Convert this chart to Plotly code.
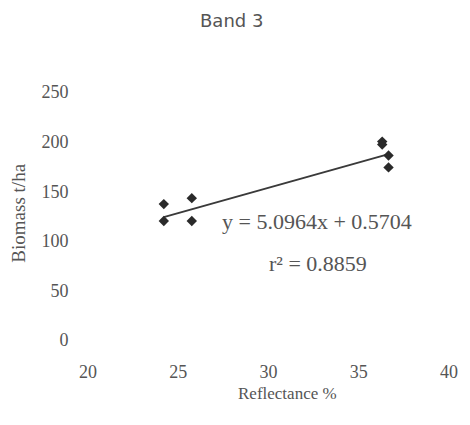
import plotly.graph_objects as go

# Data
reflectance = [24.2, 24.2, 25.75, 25.75, 36.3, 36.3, 36.65, 36.65]
biomass = [137, 120, 143, 120, 200, 197, 186, 174]

slope = 5.0964
intercept = 0.5704
r_squared = 0.8859

x_ticks = [20, 25, 30, 35, 40]
y_ticks = [0, 50, 100, 150, 200, 250]

x_fit = [min(reflectance), max(reflectance)]
y_fit = [slope * v + intercept for v in x_fit]

serif = "Liberation Serif, Times New Roman, serif"
grey = "#555555"

fig = go.Figure()
fig.add_trace(go.Scatter(
    x=x_fit, y=y_fit, mode="lines",
    line=dict(color="#3a3a3a", width=2),
    showlegend=False, hoverinfo="skip"))
fig.add_trace(go.Scatter(
    x=reflectance, y=biomass, mode="markers",
    marker=dict(symbol="diamond", size=8, color="#2a2a2a"),
    showlegend=False))

def ann(text, x, y, size, family=serif, angle=0):
    return dict(text=text, x=x, y=y, xref="paper", yref="paper",
                xanchor="center", yanchor="middle", showarrow=False,
                textangle=angle, font=dict(family=family, size=size, color=grey))

fig.update_layout(
    width=470, height=425,
    margin=dict(l=88, r=13, t=92, b=85),
    paper_bgcolor="white", plot_bgcolor="white",
    font=dict(family=serif, color=grey, size=18),
    xaxis=dict(range=[20, 40], tickvals=x_ticks, showgrid=False, zeroline=False,
               showline=False, ticks="outside", ticklen=15, tickcolor="rgba(0,0,0,0)",
               tickfont=dict(family=serif, size=18, color=grey)),
    yaxis=dict(range=[0, 250], tickvals=y_ticks, showgrid=False, zeroline=False,
               showline=False, ticks="outside", ticklen=15, tickcolor="rgba(0,0,0,0)",
               tickfont=dict(family=serif, size=18, color=grey)),
    annotations=[
        ann("Band 3", 0.398, 1.29, 18, family="DejaVu Sans"),
        ann("y = 5.0964x + 0.5704", 0.634, 0.476, 22),
        ann("r² = 0.8859", 0.637, 0.31, 22),
        ann("Reflectance %", 0.553, -0.214, 17),
        ann("Biomass t/ha", -0.195, 0.512, 19, angle=-90),
    ],
)

fig.write_html("out.html")
